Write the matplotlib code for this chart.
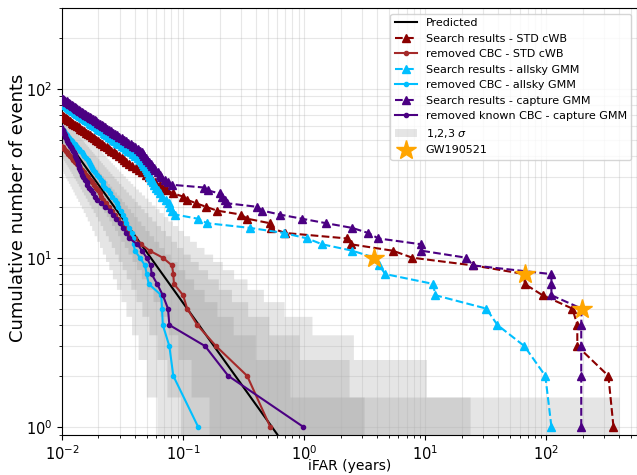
import numpy as np
import matplotlib
matplotlib.use("Agg")
import matplotlib.pyplot as plt
from math import lgamma

# ---------------- data (iFAR in years, sorted descending; N = 1, 2, 3, ...) -------------
pred_ifar = [0.01, 0.6]
pred_N = [54.0, 0.9]

std_search = [358, 325, 180, 180, 164, 93, 66, 66, 25, 7.8, 5.4, 2.44, 2.26, 0.70, 0.53,
              0.52, 0.34, 0.30, 0.19, 0.155, 0.128, 0.108, 0.10, 0.083, 0.074, 0.069, 0.064,
              0.059, 0.055, 0.052, 0.049, 0.046, 0.043, 0.0405, 0.038, 0.036, 0.034, 0.0325,
              0.031, 0.0295, 0.028, 0.0268, 0.0256, 0.0244, 0.0234, 0.0224, 0.0215, 0.0206,
              0.0198, 0.019, 0.0183, 0.0176, 0.017, 0.0163, 0.0157, 0.0152, 0.0147, 0.0142,
              0.0137, 0.0133, 0.0128, 0.0124, 0.012, 0.0117, 0.0113, 0.011, 0.0107, 0.0104,
              0.0101, 0.0098]

std_removed = [0.524, 0.338, 0.187, 0.131, 0.108, 0.10, 0.084, 0.083, 0.081, 0.068, 0.053,
               0.045, 0.040, 0.036, 0.034, 0.031, 0.029, 0.0275, 0.026, 0.0245, 0.023, 0.022,
               0.021, 0.0205, 0.0198, 0.019, 0.0183, 0.0176, 0.017, 0.0164, 0.0158, 0.0152,
               0.0147, 0.0142, 0.0137, 0.0132, 0.0128, 0.0124, 0.012, 0.0116, 0.0113, 0.011,
               0.0107, 0.0104, 0.0101, 0.0098]

allsky_search = [110, 98, 65.8, 39.4, 31.9, 12.1, 11.6, 4.67, 4.17, 3.8, 2.5, 1.41, 1.06,
                 0.68, 0.36, 0.158, 0.133, 0.086, 0.081, 0.078, 0.076, 0.072, 0.067, 0.064,
                 0.062, 0.060, 0.058, 0.056, 0.054, 0.053, 0.052, 0.051, 0.050, 0.049,
                 0.0479, 0.0466, 0.0454, 0.0441, 0.0421, 0.0404, 0.0386, 0.0368, 0.0351,
                 0.0337, 0.0322, 0.0311, 0.0298, 0.0285, 0.0274, 0.0265, 0.0255, 0.0246,
                 0.0236, 0.0228, 0.0221, 0.0213, 0.0205, 0.0199, 0.0193, 0.0186, 0.0181,
                 0.0174, 0.0169, 0.0165, 0.0159, 0.0154, 0.0150, 0.0146, 0.0141, 0.0137,
                 0.0134, 0.0131, 0.0127, 0.0123, 0.0120, 0.0117, 0.0114, 0.0112, 0.0109,
                 0.0106, 0.0104, 0.0101, 0.0099]

allsky_removed = [0.133, 0.083, 0.077, 0.068, 0.067, 0.066, 0.052, 0.05, 0.0485, 0.044,
                  0.040, 0.039, 0.0385, 0.038, 0.036, 0.034, 0.033, 0.032, 0.0305, 0.029,
                  0.0282, 0.0274, 0.026, 0.025, 0.0238, 0.0228, 0.022, 0.0218, 0.021, 0.0202,
                  0.0195, 0.0188, 0.0182, 0.0177, 0.0173, 0.017, 0.0168, 0.0163, 0.0158,
                  0.0153, 0.0149, 0.0145, 0.0141, 0.0137, 0.0133, 0.013, 0.0127, 0.0124,
                  0.0121, 0.0118, 0.0115, 0.0112, 0.011, 0.0107, 0.0105, 0.0103, 0.0101,
                  0.0099]

capture_search = [194, 194, 194, 194, 195, 110, 110, 110, 24.9, 21.8, 9.3, 9.3, 4.1, 3.38,
                  2.5, 1.52, 0.96, 0.63, 0.45, 0.41, 0.23, 0.22, 0.21, 0.20, 0.16, 0.15,
                  0.081, 0.075, 0.071, 0.066, 0.064, 0.062, 0.059, 0.057, 0.0557, 0.054,
                  0.052, 0.0505, 0.049, 0.0479, 0.0468, 0.0455, 0.0442, 0.0422, 0.0403,
                  0.0385, 0.0368, 0.0352, 0.0337, 0.0323, 0.0310, 0.0297, 0.0286, 0.0275,
                  0.0264, 0.0254, 0.0245, 0.0237, 0.0228, 0.0220, 0.0213, 0.0206, 0.0199,
                  0.0192, 0.0186, 0.0180, 0.0175, 0.0169, 0.0164, 0.0159, 0.0155, 0.0150,
                  0.0146, 0.0142, 0.0138, 0.0134, 0.0130, 0.0127, 0.0124, 0.0120, 0.0117,
                  0.0114, 0.0111, 0.0109, 0.0106, 0.0103, 0.0101, 0.0099]

capture_removed = [0.98, 0.236, 0.152, 0.077, 0.075, 0.068, 0.061, 0.055, 0.054, 0.05,
                   0.0458, 0.042, 0.036, 0.034, 0.032, 0.030, 0.028, 0.0265, 0.025, 0.0225,
                   0.021, 0.0195, 0.0187, 0.018, 0.0172, 0.0166, 0.0162, 0.016, 0.0155,
                   0.015, 0.0147, 0.0144, 0.0141, 0.0139, 0.0137, 0.0136, 0.0135, 0.0133,
                   0.0131, 0.0129, 0.0127, 0.0125, 0.0123, 0.0121, 0.0119, 0.0117, 0.0115,
                   0.0113, 0.0111, 0.0109, 0.0108, 0.0106, 0.0105, 0.0104, 0.0103, 0.0102,
                   0.0101, 0.01, 0.0099]

# GW190521 in each search: (iFAR, cumulative number)
gw_ifar = [3.8, 66, 195]
gw_N = [10, 8, 5]

sigma_p = [0.158655, 0.02275, 0.00135]   # one-sided tail probabilities for 1,2,3 sigma

# ---------------- figure -------------------------------------------------------------
fig = plt.figure(figsize=(6.37, 4.75), dpi=100)
ax = fig.add_axes([62 / 637, 1 - 434.5 / 475, (637 - 62) / 637, (434.5 - 8) / 475])
ax.set_xscale("log")
ax.set_yscale("log")
xmin, xmax = 0.01, 560
ax.set_xlim(xmin, xmax)
ax.set_ylim(0.9, 300)

# Poisson bands around the predicted background rate
T = pred_ifar[0] * pred_N[0]
xg = np.logspace(np.log10(xmin), np.log10(xmax), 4000)
mu = T / xg
ks = np.arange(0, 200)
lgam = np.array([lgamma(k + 1) for k in ks])
logpmf = -mu[:, None] + ks[None, :] * np.log(mu[:, None]) - lgam[None, :]
cdf = np.cumsum(np.exp(logpmf), axis=1)
for i, p in enumerate(sigma_p):
    lo = (cdf <= p).sum(axis=1)
    hi = ((1 - cdf) >= p).sum(axis=1)
    ax.fill_between(xg, np.maximum(lo - 0.5, 0.5), hi + 0.5, step="mid",
                    color="grey", alpha=0.2, lw=0, zorder=1,
                    label="1,2,3 $\\sigma$" if i == 0 else None)

def nrange(a):
    return np.arange(1, len(a) + 1)

ax.plot(pred_ifar, pred_N, color="black", lw=1.5, label="Predicted", zorder=3)
ax.plot(std_search, nrange(std_search), "--^", color="darkred", lw=1.5, ms=6,
        label="Search results - STD cWB", zorder=4)
ax.plot(std_removed, nrange(std_removed), "-o", color="brown", lw=1.5, ms=3,
        label="removed CBC - STD cWB", zorder=4)
ax.plot(allsky_search, nrange(allsky_search), "--^", color="deepskyblue", lw=1.5, ms=6,
        label="Search results - allsky GMM", zorder=4)
ax.plot(allsky_removed, nrange(allsky_removed), "-o", color="deepskyblue", lw=1.5, ms=3,
        label="removed CBC - allsky GMM", zorder=4)
ax.plot(capture_search, nrange(capture_search), "--^", color="indigo", lw=1.5, ms=6,
        label="Search results - capture GMM", zorder=4)
ax.plot(capture_removed, nrange(capture_removed), "-o", color="indigo", lw=1.5, ms=3,
        label="removed known CBC - capture GMM", zorder=4)
ax.plot(gw_ifar, gw_N, linestyle="none", marker="*", color="orange", ms=15,
        label="GW190521", zorder=6)

ax.grid(True, which="both", color="#b0b0b0", alpha=0.3, lw=0.8)
ax.tick_params(labelsize=10.5)
ax.set_xlabel("iFAR (years)", fontsize=10, va="center")
ax.xaxis.set_label_coords(0.5, -(466 - 434.5) / 426.5)
ax.set_ylabel("Cumulative number of events", fontsize=13)
ax.yaxis.set_label_coords(-(62 - 27) / 575, (434.5 - 208) / 426.5)

handles, labels = ax.get_legend_handles_labels()
order = ["Predicted", "Search results - STD cWB", "removed CBC - STD cWB",
         "Search results - allsky GMM", "removed CBC - allsky GMM",
         "Search results - capture GMM", "removed known CBC - capture GMM",
         "1,2,3 $\\sigma$", "GW190521"]
hd = dict(zip(labels, handles))
ax.legend([hd[o] for o in order], order, loc="upper right", fontsize=8)

fig.savefig("out.png", dpi=100)
